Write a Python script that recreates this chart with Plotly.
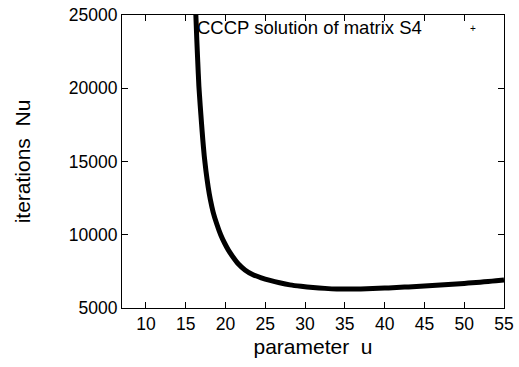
import plotly.graph_objects as go

# Parameter u and number of iterations Nu
u_values = [16.28, 16.40, 16.52, 16.66, 16.83, 17.00, 17.15, 17.33, 17.55, 17.83,
            18.10, 18.45, 18.90, 19.40, 19.90, 20.35, 20.90, 21.60, 22.45, 23.40,
            24.50, 25.60, 26.80, 28.10, 29.50, 31.00, 32.50, 34.00, 35.50, 37.00,
            38.50, 40.00, 41.00, 42.00, 43.00, 44.00, 45.00, 46.00, 47.00, 48.00,
            49.00, 50.00, 51.00, 52.00, 53.00, 54.00, 55.00]
nu_values = [25000, 23300, 21800, 20150, 18800, 17550, 16500, 15400, 14350, 13250,
             12400, 11550, 10750, 10000, 9420, 8970, 8520, 8020, 7600, 7290,
             7060, 6880, 6720, 6580, 6480, 6400, 6340, 6300, 6290, 6300,
             6325, 6360, 6385, 6410, 6440, 6470, 6500, 6530, 6565, 6600,
             6640, 6680, 6720, 6765, 6810, 6860, 6910]

x_ticks = [10, 15, 20, 25, 30, 35, 40, 45, 50, 55]
y_ticks = [5000, 10000, 15000, 20000, 25000]
legend_label = "CCCP solution of matrix S4"
x_title = "parameter  u"
y_title = "iterations  Nu"

FONT = "Liberation Sans, Arial, Helvetica, sans-serif"

fig = go.Figure()
fig.add_trace(go.Scatter(
    x=u_values, y=nu_values, mode="lines",
    line=dict(color="black", width=5, shape="spline", smoothing=0.5),
    showlegend=False,
))

axis_common = dict(
    showline=True, linecolor="black", linewidth=1, mirror="allticks",
    ticks="inside", ticklen=6, tickwidth=1, tickcolor="black",
    showgrid=False, zeroline=False,
    tickfont=dict(family=FONT, size=17.5, color="black"),
)

fig.update_layout(
    width=519, height=367,
    margin=dict(l=122, r=15, t=15, b=59, autoexpand=False),
    paper_bgcolor="white", plot_bgcolor="white",
    xaxis=dict(range=[7, 55], tickvals=x_ticks, ticktext=[str(v) for v in x_ticks],
               **axis_common, automargin=False,
               title=dict(text=x_title, font=dict(family=FONT, size=21, color="black"),
                          standoff=6)),
    yaxis=dict(range=[5000, 25000], tickvals=y_ticks, ticktext=[str(v) for v in y_ticks],
               **axis_common, automargin=False,
               title=dict(text=y_title, font=dict(family=FONT, size=21, color="black"),
                          standoff=32)),
    annotations=[
        dict(text=legend_label, xref="paper", yref="paper", x=0.791, y=0.956,
             xanchor="right", yanchor="middle", showarrow=False,
             font=dict(family=FONT, size=18.5, color="black")),
        dict(text="+", xref="paper", yref="paper", x=0.918, y=0.954,
             xanchor="center", yanchor="middle", showarrow=False,
             font=dict(family=FONT, size=10, color="black")),
    ],
)

fig.write_html("out.html")
